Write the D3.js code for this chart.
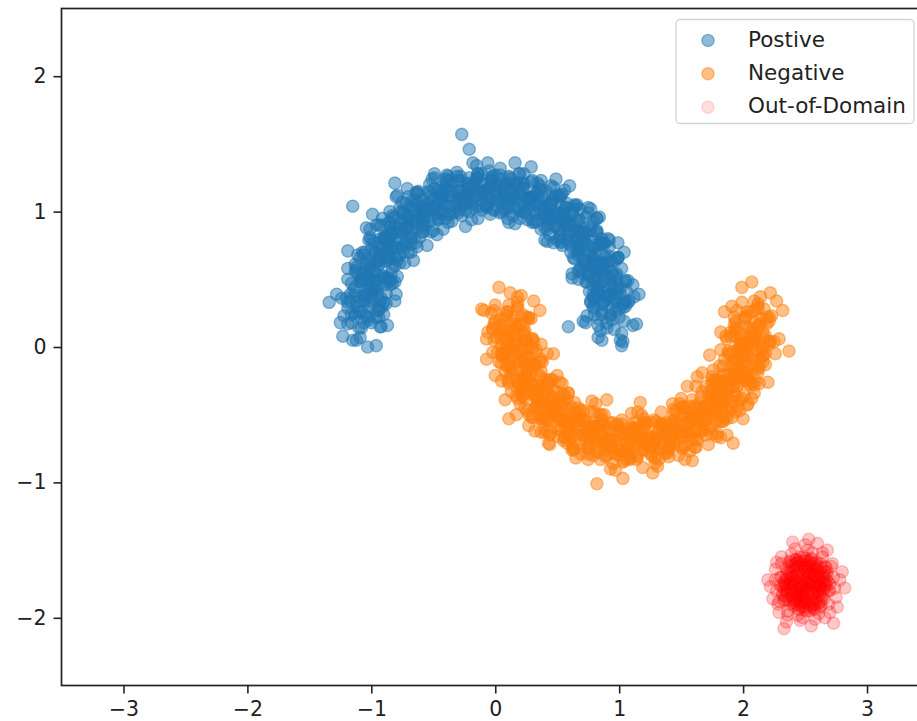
<!DOCTYPE html>
<html>
<head>
<meta charset="utf-8">
<script src="https://cdn.jsdelivr.net/npm/d3@7"></script>
<style>
body { margin: 0; background: #fff; }
text { font-family: "DejaVu Sans", sans-serif; }
</style>
</head>
<body>
<div id="chart"></div>
<script>
var xTicks = [-3, -2, -1, 0, 1, 2, 3];
var yTicks = [-2, -1, 0, 1, 2];
var seriesNames = ["Postive", "Negative", "Out-of-Domain"];

// upper moon
var positive = [
  [0.93,0.23],[0.79,0.29],[1.05,0.34],[0.86,0.05],[1.11,0.16],[0.73,0.18],[0.98,0.42],[0.90,0.14],[1.02,0.01],
  [0.97,0.26],[0.83,0.16],[1.08,0.34],[0.76,0.41],[0.94,0.45],[1.14,0.17],[0.87,0.33],[0.71,0.19],[1.01,0.05],
  [0.90,0.38],[1.03,0.29],[0.79,0.39],[0.98,0.49],[0.83,0.56],[1.11,0.46],[0.74,0.23],[0.94,0.20],[1.16,0.39],
  [0.93,0.51],[0.82,0.42],[1.03,0.32],[0.75,0.53],[0.99,0.66],[0.86,0.24],[1.07,0.49],[0.67,0.56],[0.79,0.35],
  [0.87,0.55],[0.73,0.61],[0.99,0.66],[0.80,0.37],[1.05,0.48],[0.67,0.50],[0.92,0.74],[0.84,0.46],[0.96,0.33],
  [0.88,0.58],[0.74,0.48],[0.99,0.66],[0.67,0.73],[0.85,0.77],[1.05,0.49],[0.78,0.65],[0.62,0.51],[0.92,0.37],
  [0.78,0.69],[0.91,0.60],[0.67,0.70],[0.86,0.80],[0.71,0.87],[0.99,0.77],[0.62,0.54],[0.82,0.51],[1.04,0.70],
  [0.78,0.81],[0.67,0.72],[0.88,0.62],[0.60,0.83],[0.84,0.96],[0.71,0.54],[0.92,0.79],[0.52,0.86],[0.64,0.65],
  [0.70,0.84],[0.56,0.90],[0.82,0.95],[0.63,0.66],[0.88,0.77],[0.50,0.79],[0.75,1.03],[0.67,0.75],[0.79,0.62],
  [0.68,0.85],[0.54,0.75],[0.79,0.93],[0.47,1.00],[0.65,1.04],[0.85,0.76],[0.58,0.92],[0.42,0.78],[0.72,0.64],
  [0.56,0.94],[0.69,0.85],[0.45,0.95],[0.64,1.05],[0.49,1.12],[0.77,1.02],[0.40,0.79],[0.60,0.76],[0.82,0.95],
  [0.54,1.04],[0.43,0.95],[0.64,0.85],[0.36,1.06],[0.60,1.19],[0.47,0.77],[0.68,1.02],[0.28,1.09],[0.40,0.88],
  [0.44,1.05],[0.30,1.11],[0.56,1.16],[0.37,0.87],[0.62,0.98],[0.24,1.00],[0.49,1.24],[0.41,0.96],[0.53,0.83],
  [0.40,1.04],[0.26,0.94],[0.51,1.12],[0.19,1.19],[0.37,1.23],[0.57,0.95],[0.30,1.11],[0.14,0.97],[0.44,0.83],
  [0.26,1.10],[0.39,1.01],[0.15,1.11],[0.34,1.21],[0.19,1.28],[0.47,1.18],[0.10,0.95],[0.30,0.92],[0.52,1.11],
  [0.23,1.18],[0.12,1.09],[0.33,0.99],[0.05,1.20],[0.29,1.33],[0.16,0.91],[0.37,1.16],[-0.03,1.23],[0.09,1.02],
  [0.11,1.17],[-0.03,1.23],[0.23,1.28],[0.04,0.99],[0.29,1.10],[-0.09,1.12],[0.16,1.36],[0.08,1.08],[0.20,0.95],
  [0.07,1.13],[-0.07,1.03],[0.18,1.21],[-0.14,1.28],[0.04,1.32],[0.24,1.04],[-0.03,1.20],[-0.19,1.06],[0.11,0.92],
  [-0.08,1.16],[0.05,1.07],[-0.19,1.17],[0.00,1.27],[-0.15,1.34],[0.13,1.24],[-0.24,1.01],[-0.04,0.98],[0.18,1.17],
  [-0.12,1.21],[-0.23,1.12],[-0.02,1.02],[-0.30,1.23],[-0.06,1.36],[-0.19,0.94],[0.02,1.19],[-0.38,1.26],[-0.26,1.05],
  [-0.23,1.17],[-0.37,1.23],[-0.11,1.28],[-0.30,0.99],[-0.05,1.10],[-0.43,1.12],[-0.18,1.36],[-0.26,1.08],[-0.14,0.95],
  [-0.28,1.10],[-0.42,1.00],[-0.17,1.18],[-0.49,1.25],[-0.31,1.29],[-0.11,1.01],[-0.38,1.17],[-0.54,1.03],[-0.24,0.89],
  [-0.42,1.10],[-0.29,1.01],[-0.53,1.11],[-0.34,1.21],[-0.49,1.28],[-0.21,1.18],[-0.58,0.95],[-0.38,0.92],[-0.16,1.11],
  [-0.45,1.12],[-0.56,1.03],[-0.35,0.93],[-0.63,1.14],[-0.39,1.27],[-0.52,0.85],[-0.31,1.10],[-0.71,1.17],[-0.59,0.96],
  [-0.56,1.05],[-0.70,1.11],[-0.44,1.16],[-0.63,0.87],[-0.38,0.98],[-0.76,1.00],[-0.51,1.24],[-0.59,0.96],[-0.47,0.83],
  [-0.59,0.96],[-0.73,0.86],[-0.48,1.04],[-0.80,1.11],[-0.62,1.15],[-0.42,0.87],[-0.69,1.03],[-0.85,0.89],[-0.55,0.75],
  [-0.72,0.94],[-0.59,0.85],[-0.83,0.95],[-0.64,1.05],[-0.79,1.12],[-0.51,1.02],[-0.88,0.79],[-0.68,0.76],[-0.46,0.95],
  [-0.73,0.93],[-0.84,0.84],[-0.63,0.74],[-0.91,0.95],[-0.67,1.08],[-0.80,0.66],[-0.59,0.91],[-0.99,0.98],[-0.87,0.77],
  [-0.82,0.84],[-0.96,0.90],[-0.70,0.95],[-0.89,0.66],[-0.64,0.77],[-1.02,0.79],[-0.77,1.03],[-0.85,0.75],[-0.73,0.62],
  [-0.83,0.73],[-0.97,0.63],[-0.72,0.81],[-1.04,0.88],[-0.86,0.92],[-0.66,0.64],[-0.93,0.80],[-1.09,0.66],[-0.79,0.52],
  [-0.94,0.69],[-0.81,0.60],[-1.05,0.70],[-0.86,0.80],[-1.01,0.87],[-0.73,0.77],[-1.10,0.54],[-0.90,0.51],[-0.68,0.70],
  [-0.93,0.66],[-1.04,0.57],[-0.83,0.47],[-1.11,0.68],[-0.87,0.81],[-1.00,0.39],[-0.79,0.64],[-1.19,0.71],[-1.07,0.50],
  [-0.99,0.55],[-1.13,0.61],[-0.87,0.66],[-1.06,0.37],[-0.81,0.48],[-1.19,0.50],[-0.94,0.74],[-1.02,0.46],[-0.90,0.33],
  [-0.98,0.43],[-1.12,0.33],[-0.87,0.51],[-1.19,0.58],[-1.01,0.62],[-0.81,0.34],[-1.08,0.50],[-1.24,0.36],[-0.94,0.22],
  [-1.06,0.38],[-0.93,0.29],[-1.17,0.39],[-0.98,0.49],[-1.13,0.56],[-0.85,0.46],[-1.22,0.23],[-1.02,0.20],[-0.80,0.39],
  [-1.02,0.34],[-1.13,0.25],[-0.92,0.15],[-1.20,0.36],[-0.96,0.49],[-1.09,0.07],[-0.88,0.32],[-1.28,0.39],[-1.16,0.18],
  [-1.05,0.23],[-1.19,0.29],[-0.93,0.34],[-1.12,0.05],[-0.87,0.16],[-1.25,0.18],[-1.00,0.42],[-1.08,0.14],[-0.96,0.01],
  [-0.27,1.57],[-0.21,1.46],[-1.15,1.04],[-0.81,1.21],[-1.34,0.33],[-1.23,0.08],[-1.15,0.05],[-1.03,0.00],
  [0.59,0.15],[1.03,0.04],[0.83,0.07],[1.12,0.37],
  [0.93,0.24],[1.00,0.28],[0.87,0.32],[1.04,0.19],[0.83,0.21],[0.96,0.13],[0.89,0.37],[1.07,0.33],[0.80,0.30],[0.98,0.39],[0.85,0.12],[1.02,0.10],
  [0.94,0.29],[0.87,0.34],[1.01,0.39],[0.80,0.24],[0.96,0.43],[0.90,0.18],[1.05,0.30],[0.83,0.44],[1.00,0.22],[0.77,0.33],[0.93,0.38],[0.86,0.26],
  [0.88,0.43],[0.96,0.35],[0.83,0.40],[1.01,0.44],[0.90,0.51],[0.97,0.53],[0.79,0.51],[1.03,0.32],[0.86,0.31],[1.06,0.41],[0.77,0.34],[0.93,0.39],
  [0.88,0.49],[0.95,0.53],[0.82,0.57],[0.99,0.44],[0.78,0.46],[0.91,0.38],[0.84,0.62],[1.02,0.58],[0.75,0.55],[0.93,0.64],[0.80,0.37],[0.97,0.35],
  [0.87,0.53],[0.80,0.58],[0.94,0.63],[0.73,0.48],[0.89,0.67],[0.83,0.42],[0.98,0.54],[0.76,0.68],[0.93,0.46],[0.70,0.57],[0.86,0.62],[0.79,0.50],
  [0.79,0.66],[0.87,0.58],[0.74,0.63],[0.92,0.67],[0.81,0.74],[0.88,0.76],[0.70,0.74],[0.94,0.55],[0.77,0.54],[0.97,0.64],[0.68,0.57],[0.84,0.62],
  [0.77,0.71],[0.84,0.75],[0.71,0.79],[0.88,0.66],[0.67,0.68],[0.80,0.60],[0.73,0.84],[0.91,0.80],[0.64,0.77],[0.82,0.86],[0.69,0.59],[0.86,0.57],
  [0.75,0.75],[0.68,0.80],[0.82,0.85],[0.61,0.70],[0.77,0.89],[0.71,0.64],[0.86,0.76],[0.64,0.90],[0.81,0.68],[0.58,0.79],[0.74,0.84],[0.67,0.72],
  [0.64,0.86],[0.72,0.78],[0.59,0.83],[0.77,0.87],[0.66,0.94],[0.73,0.96],[0.55,0.94],[0.79,0.75],[0.62,0.74],[0.82,0.84],[0.53,0.77],[0.69,0.82],
  [0.61,0.90],[0.68,0.94],[0.55,0.98],[0.72,0.85],[0.51,0.87],[0.64,0.79],[0.57,1.03],[0.75,0.99],[0.48,0.96],[0.66,1.05],[0.53,0.78],[0.70,0.76],
  [0.56,0.92],[0.49,0.97],[0.63,1.02],[0.42,0.87],[0.58,1.06],[0.52,0.81],[0.67,0.93],[0.45,1.07],[0.62,0.85],[0.39,0.96],[0.55,1.01],[0.48,0.89],
  [0.44,1.02],[0.52,0.94],[0.39,0.99],[0.57,1.03],[0.46,1.10],[0.53,1.12],[0.35,1.10],[0.59,0.91],[0.42,0.90],[0.62,1.00],[0.33,0.93],[0.49,0.98],
  [0.40,1.04],[0.47,1.08],[0.34,1.12],[0.51,0.99],[0.30,1.01],[0.43,0.93],[0.36,1.17],[0.54,1.13],[0.27,1.10],[0.45,1.19],[0.32,0.92],[0.49,0.90],
  [0.34,1.05],[0.27,1.10],[0.41,1.15],[0.20,1.00],[0.36,1.19],[0.30,0.94],[0.45,1.06],[0.23,1.20],[0.40,0.98],[0.17,1.09],[0.33,1.14],[0.26,1.02],
  [0.21,1.13],[0.29,1.05],[0.16,1.10],[0.34,1.14],[0.23,1.21],[0.30,1.23],[0.12,1.21],[0.36,1.02],[0.19,1.01],[0.39,1.11],[0.10,1.04],[0.26,1.09],
  [0.15,1.13],[0.22,1.17],[0.09,1.21],[0.26,1.08],[0.05,1.10],[0.18,1.02],[0.11,1.26],[0.29,1.22],[0.02,1.19],[0.20,1.28],[0.07,1.01],[0.24,0.99],
  [0.09,1.11],[0.02,1.16],[0.16,1.21],[-0.05,1.06],[0.11,1.25],[0.05,1.00],[0.20,1.12],[-0.02,1.26],[0.15,1.04],[-0.08,1.15],[0.08,1.20],[0.01,1.08],
  [-0.05,1.17],[0.03,1.09],[-0.10,1.14],[0.08,1.18],[-0.03,1.25],[0.04,1.27],[-0.14,1.25],[0.10,1.06],[-0.07,1.05],[0.13,1.15],[-0.16,1.08],[0.00,1.13],
  [-0.10,1.15],[-0.03,1.19],[-0.16,1.23],[0.01,1.10],[-0.20,1.12],[-0.07,1.04],[-0.14,1.28],[0.04,1.24],[-0.23,1.21],[-0.05,1.30],[-0.18,1.03],[-0.01,1.01],
  [-0.17,1.11],[-0.24,1.16],[-0.10,1.21],[-0.31,1.06],[-0.15,1.25],[-0.21,1.00],[-0.06,1.12],[-0.28,1.26],[-0.11,1.04],[-0.34,1.15],[-0.18,1.20],[-0.25,1.08],
  [-0.30,1.15],[-0.22,1.07],[-0.35,1.12],[-0.17,1.16],[-0.28,1.23],[-0.21,1.25],[-0.39,1.23],[-0.15,1.04],[-0.32,1.03],[-0.12,1.13],[-0.41,1.06],[-0.25,1.11],
  [-0.36,1.11],[-0.29,1.15],[-0.42,1.19],[-0.25,1.06],[-0.46,1.08],[-0.33,1.00],[-0.40,1.24],[-0.22,1.20],[-0.49,1.17],[-0.31,1.26],[-0.44,0.99],[-0.27,0.97],
  [-0.42,1.05],[-0.49,1.10],[-0.35,1.15],[-0.56,1.00],[-0.40,1.19],[-0.46,0.94],[-0.31,1.06],[-0.53,1.20],[-0.36,0.98],[-0.59,1.09],[-0.43,1.14],[-0.50,1.02],
  [-0.55,1.06],[-0.47,0.98],[-0.60,1.03],[-0.42,1.07],[-0.53,1.14],[-0.46,1.16],[-0.64,1.14],[-0.40,0.95],[-0.57,0.94],[-0.37,1.04],[-0.66,0.97],[-0.50,1.02],
  [-0.59,1.00],[-0.52,1.04],[-0.65,1.08],[-0.48,0.95],[-0.69,0.97],[-0.56,0.89],[-0.63,1.13],[-0.45,1.09],[-0.72,1.06],[-0.54,1.15],[-0.67,0.88],[-0.50,0.86],
  [-0.64,0.92],[-0.71,0.97],[-0.57,1.02],[-0.78,0.87],[-0.62,1.06],[-0.68,0.81],[-0.53,0.93],[-0.75,1.07],[-0.58,0.85],[-0.81,0.96],[-0.65,1.01],[-0.72,0.89],
  [-0.76,0.92],[-0.68,0.84],[-0.81,0.89],[-0.63,0.93],[-0.74,1.00],[-0.67,1.02],[-0.85,1.00],[-0.61,0.81],[-0.78,0.80],[-0.58,0.90],[-0.87,0.83],[-0.71,0.88],
  [-0.79,0.84],[-0.72,0.88],[-0.85,0.92],[-0.68,0.79],[-0.89,0.81],[-0.76,0.73],[-0.83,0.97],[-0.65,0.93],[-0.92,0.90],[-0.74,0.99],[-0.87,0.72],[-0.70,0.70],
  [-0.83,0.75],[-0.90,0.80],[-0.76,0.85],[-0.97,0.70],[-0.81,0.89],[-0.87,0.64],[-0.72,0.76],[-0.94,0.90],[-0.77,0.68],[-1.00,0.79],[-0.84,0.84],[-0.91,0.72],
  [-0.92,0.73],[-0.84,0.65],[-0.97,0.70],[-0.79,0.74],[-0.90,0.81],[-0.83,0.83],[-1.01,0.81],[-0.77,0.62],[-0.94,0.61],[-0.74,0.71],[-1.03,0.64],[-0.87,0.69],
  [-0.94,0.64],[-0.87,0.68],[-1.00,0.72],[-0.83,0.59],[-1.04,0.61],[-0.91,0.53],[-0.98,0.77],[-0.80,0.73],[-1.07,0.70],[-0.89,0.79],[-1.02,0.52],[-0.85,0.50],
  [-0.95,0.53],[-1.02,0.58],[-0.88,0.63],[-1.09,0.48],[-0.93,0.67],[-0.99,0.42],[-0.84,0.54],[-1.06,0.68],[-0.89,0.46],[-1.12,0.57],[-0.96,0.62],[-1.03,0.50],
  [-1.03,0.51],[-0.95,0.43],[-1.08,0.48],[-0.90,0.52],[-1.01,0.59],[-0.94,0.61],[-1.12,0.59],[-0.88,0.40],[-1.05,0.39],[-0.85,0.49],[-1.14,0.42],[-0.98,0.47],
  [-1.03,0.41],[-0.96,0.45],[-1.09,0.49],[-0.92,0.36],[-1.13,0.38],[-1.00,0.30],[-1.07,0.54],[-0.89,0.50],[-1.16,0.47],[-0.98,0.56],[-1.11,0.29],[-0.94,0.27],
  [-1.02,0.29],[-1.09,0.34],[-0.95,0.39],[-1.16,0.24],[-1.00,0.43],[-1.06,0.18],[-0.91,0.30],[-1.13,0.44],[-0.96,0.22],[-1.19,0.33],[-1.03,0.38],[-1.10,0.26],
  [-1.08,0.26],[-1.00,0.18],[-1.13,0.23],[-0.95,0.27],[-1.06,0.34],[-0.99,0.36],[-1.17,0.34],[-0.93,0.15],[-1.10,0.14],[-0.90,0.24],[-1.19,0.17],[-1.03,0.22]
];

// lower moon
var negative = [
  [0.10,0.26],[0.23,0.17],[-0.01,0.27],[0.18,0.37],[0.03,0.44],[0.31,0.34],[-0.06,0.11],[0.14,0.08],[0.36,0.27],
  [0.15,0.23],[0.04,0.14],[0.25,0.04],[-0.03,0.25],[0.21,0.38],[0.08,-0.04],[0.29,0.21],[-0.11,0.28],[0.01,0.07],
  [0.13,0.11],[-0.01,0.17],[0.25,0.22],[0.06,-0.07],[0.31,0.04],[-0.07,0.06],[0.18,0.30],[0.10,0.02],[0.22,-0.11],
  [0.19,-0.02],[0.05,-0.12],[0.30,0.06],[-0.02,0.13],[0.16,0.17],[0.36,-0.11],[0.09,0.05],[-0.07,-0.09],[0.23,-0.23],
  [0.16,-0.06],[0.29,-0.15],[0.05,-0.05],[0.24,0.05],[0.09,0.12],[0.37,0.02],[0.00,-0.21],[0.20,-0.24],[0.42,-0.05],
  [0.24,-0.09],[0.13,-0.18],[0.34,-0.28],[0.06,-0.07],[0.30,0.06],[0.17,-0.36],[0.38,-0.11],[-0.02,-0.04],[0.10,-0.25],
  [0.25,-0.20],[0.11,-0.14],[0.37,-0.09],[0.18,-0.38],[0.43,-0.27],[0.05,-0.25],[0.30,-0.01],[0.22,-0.29],[0.34,-0.42],
  [0.34,-0.32],[0.20,-0.42],[0.45,-0.24],[0.13,-0.17],[0.31,-0.13],[0.51,-0.41],[0.24,-0.25],[0.08,-0.39],[0.38,-0.53],
  [0.33,-0.35],[0.46,-0.44],[0.22,-0.34],[0.41,-0.24],[0.26,-0.17],[0.54,-0.27],[0.17,-0.50],[0.37,-0.53],[0.59,-0.34],
  [0.44,-0.36],[0.33,-0.45],[0.54,-0.55],[0.26,-0.34],[0.50,-0.21],[0.37,-0.63],[0.58,-0.38],[0.18,-0.31],[0.30,-0.52],
  [0.47,-0.45],[0.33,-0.39],[0.59,-0.34],[0.40,-0.63],[0.65,-0.52],[0.27,-0.50],[0.52,-0.26],[0.44,-0.54],[0.56,-0.67],
  [0.58,-0.55],[0.44,-0.65],[0.69,-0.47],[0.37,-0.40],[0.55,-0.36],[0.75,-0.64],[0.48,-0.48],[0.32,-0.62],[0.62,-0.76],
  [0.59,-0.56],[0.72,-0.65],[0.48,-0.55],[0.67,-0.45],[0.52,-0.38],[0.80,-0.48],[0.43,-0.71],[0.63,-0.74],[0.85,-0.55],
  [0.72,-0.55],[0.61,-0.64],[0.82,-0.74],[0.54,-0.53],[0.78,-0.40],[0.65,-0.82],[0.86,-0.57],[0.46,-0.50],[0.58,-0.71],
  [0.76,-0.61],[0.62,-0.55],[0.88,-0.50],[0.69,-0.79],[0.94,-0.68],[0.56,-0.66],[0.81,-0.42],[0.73,-0.70],[0.85,-0.83],
  [0.89,-0.69],[0.75,-0.79],[1.00,-0.61],[0.68,-0.54],[0.86,-0.50],[1.06,-0.78],[0.79,-0.62],[0.63,-0.76],[0.93,-0.90],
  [0.91,-0.68],[1.04,-0.77],[0.80,-0.67],[0.99,-0.57],[0.84,-0.50],[1.12,-0.60],[0.75,-0.83],[0.95,-0.86],[1.17,-0.67],
  [1.04,-0.64],[0.93,-0.73],[1.14,-0.83],[0.86,-0.62],[1.10,-0.49],[0.97,-0.91],[1.18,-0.66],[0.78,-0.59],[0.90,-0.80],
  [1.10,-0.67],[0.96,-0.61],[1.22,-0.56],[1.03,-0.85],[1.28,-0.74],[0.90,-0.72],[1.15,-0.48],[1.07,-0.76],[1.19,-0.89],
  [1.23,-0.72],[1.09,-0.82],[1.34,-0.64],[1.02,-0.57],[1.20,-0.53],[1.40,-0.81],[1.13,-0.65],[0.97,-0.79],[1.27,-0.93],
  [1.25,-0.68],[1.38,-0.77],[1.14,-0.67],[1.33,-0.57],[1.18,-0.50],[1.46,-0.60],[1.09,-0.83],[1.29,-0.86],[1.51,-0.67],
  [1.38,-0.61],[1.27,-0.70],[1.48,-0.80],[1.20,-0.59],[1.44,-0.46],[1.31,-0.88],[1.52,-0.63],[1.12,-0.56],[1.24,-0.77],
  [1.44,-0.61],[1.30,-0.55],[1.56,-0.50],[1.37,-0.79],[1.62,-0.68],[1.24,-0.66],[1.49,-0.42],[1.41,-0.70],[1.53,-0.83],
  [1.55,-0.63],[1.41,-0.73],[1.66,-0.55],[1.34,-0.48],[1.52,-0.44],[1.72,-0.72],[1.45,-0.56],[1.29,-0.70],[1.59,-0.84],
  [1.57,-0.56],[1.70,-0.65],[1.46,-0.55],[1.65,-0.45],[1.50,-0.38],[1.78,-0.48],[1.41,-0.71],[1.61,-0.74],[1.83,-0.55],
  [1.69,-0.47],[1.58,-0.56],[1.79,-0.66],[1.51,-0.45],[1.75,-0.32],[1.62,-0.74],[1.83,-0.49],[1.43,-0.42],[1.55,-0.63],
  [1.73,-0.45],[1.59,-0.39],[1.85,-0.34],[1.66,-0.63],[1.91,-0.52],[1.53,-0.50],[1.78,-0.26],[1.70,-0.54],[1.82,-0.67],
  [1.83,-0.44],[1.69,-0.54],[1.94,-0.36],[1.62,-0.29],[1.80,-0.25],[2.00,-0.53],[1.73,-0.37],[1.57,-0.51],[1.87,-0.65],
  [1.83,-0.35],[1.96,-0.44],[1.72,-0.34],[1.91,-0.24],[1.76,-0.17],[2.04,-0.27],[1.67,-0.50],[1.87,-0.53],[2.09,-0.34],
  [1.93,-0.24],[1.82,-0.33],[2.03,-0.43],[1.75,-0.22],[1.99,-0.09],[1.86,-0.51],[2.07,-0.26],[1.67,-0.19],[1.79,-0.40],
  [1.95,-0.20],[1.81,-0.14],[2.07,-0.09],[1.88,-0.38],[2.13,-0.27],[1.75,-0.25],[2.00,-0.01],[1.92,-0.29],[2.04,-0.42],
  [2.03,-0.17],[1.89,-0.27],[2.14,-0.09],[1.82,-0.02],[2.00,0.02],[2.20,-0.26],[1.93,-0.10],[1.77,-0.24],[2.07,-0.38],
  [2.00,-0.06],[2.13,-0.15],[1.89,-0.05],[2.08,0.05],[1.93,0.12],[2.21,0.02],[1.84,-0.21],[2.04,-0.24],[2.26,-0.05],
  [2.08,0.06],[1.97,-0.03],[2.18,-0.13],[1.90,0.08],[2.14,0.21],[2.01,-0.21],[2.22,0.04],[1.82,0.11],[1.94,-0.10],
  [2.07,0.11],[1.93,0.17],[2.19,0.22],[2.00,-0.07],[2.25,0.04],[1.87,0.06],[2.12,0.30],[2.04,0.02],[2.16,-0.11],
  [2.12,0.15],[1.98,0.05],[2.23,0.23],[1.91,0.30],[2.09,0.34],[2.29,0.06],[2.02,0.22],[1.86,0.08],[2.16,-0.06],
  [2.06,0.26],[2.19,0.17],[1.95,0.27],[2.14,0.37],[1.99,0.44],[2.27,0.34],[1.90,0.11],[2.10,0.08],[2.32,0.27],
  [0.82,-1.01],[1.03,-0.97],[2.07,0.48],[2.22,0.40],[2.37,-0.03],[1.85,0.26],[1.73,-0.06],[0.11,-0.53],
  [0.27,-0.58],[-0.09,0.27],[0.12,0.40],[1.17,-0.41],[0.90,-0.39],[0.47,-0.05],[1.63,-0.22],[1.55,-0.29],
  [1.92,-0.71],[0.44,-0.72],
  [0.09,0.23],[0.17,0.15],[0.04,0.20],[0.22,0.24],[0.11,0.31],[0.18,0.33],[0.00,0.31],[0.24,0.12],[0.07,0.11],[0.27,0.21],[-0.02,0.14],[0.14,0.19],
  [0.13,0.13],[0.20,0.17],[0.07,0.21],[0.24,0.08],[0.03,0.10],[0.16,0.02],[0.09,0.26],[0.27,0.22],[0.00,0.19],[0.18,0.28],[0.05,0.01],[0.22,-0.01],
  [0.16,0.01],[0.09,0.06],[0.23,0.11],[0.02,-0.04],[0.18,0.15],[0.12,-0.10],[0.27,0.02],[0.05,0.16],[0.22,-0.06],[-0.01,0.05],[0.15,0.10],[0.08,-0.02],
  [0.14,-0.02],[0.22,-0.10],[0.09,-0.05],[0.27,-0.01],[0.16,0.06],[0.23,0.08],[0.05,0.06],[0.29,-0.13],[0.12,-0.14],[0.32,-0.04],[0.03,-0.11],[0.19,-0.06],
  [0.19,-0.11],[0.26,-0.07],[0.13,-0.03],[0.30,-0.16],[0.09,-0.14],[0.22,-0.22],[0.15,0.02],[0.33,-0.02],[0.06,-0.05],[0.24,0.04],[0.11,-0.23],[0.28,-0.25],
  [0.25,-0.22],[0.18,-0.17],[0.32,-0.12],[0.11,-0.27],[0.27,-0.08],[0.21,-0.33],[0.36,-0.21],[0.14,-0.07],[0.31,-0.29],[0.08,-0.18],[0.24,-0.13],[0.17,-0.25],
  [0.24,-0.24],[0.32,-0.32],[0.19,-0.27],[0.37,-0.23],[0.26,-0.16],[0.33,-0.14],[0.15,-0.16],[0.39,-0.35],[0.22,-0.36],[0.42,-0.26],[0.13,-0.33],[0.29,-0.28],
  [0.32,-0.33],[0.39,-0.29],[0.26,-0.25],[0.43,-0.38],[0.22,-0.36],[0.35,-0.44],[0.28,-0.20],[0.46,-0.24],[0.19,-0.27],[0.37,-0.18],[0.24,-0.45],[0.41,-0.47],
  [0.40,-0.42],[0.33,-0.37],[0.47,-0.32],[0.26,-0.47],[0.42,-0.28],[0.36,-0.53],[0.51,-0.41],[0.29,-0.27],[0.46,-0.49],[0.23,-0.38],[0.39,-0.33],[0.32,-0.45],
  [0.41,-0.43],[0.49,-0.51],[0.36,-0.46],[0.54,-0.42],[0.43,-0.35],[0.50,-0.33],[0.32,-0.35],[0.56,-0.54],[0.39,-0.55],[0.59,-0.45],[0.30,-0.52],[0.46,-0.47],
  [0.50,-0.50],[0.57,-0.46],[0.44,-0.42],[0.61,-0.55],[0.40,-0.53],[0.53,-0.61],[0.46,-0.37],[0.64,-0.41],[0.37,-0.44],[0.55,-0.35],[0.42,-0.62],[0.59,-0.64],
  [0.59,-0.58],[0.52,-0.53],[0.66,-0.48],[0.45,-0.63],[0.61,-0.44],[0.55,-0.69],[0.70,-0.57],[0.48,-0.43],[0.65,-0.65],[0.42,-0.54],[0.58,-0.49],[0.51,-0.61],
  [0.62,-0.57],[0.70,-0.65],[0.57,-0.60],[0.75,-0.56],[0.64,-0.49],[0.71,-0.47],[0.53,-0.49],[0.77,-0.68],[0.60,-0.69],[0.80,-0.59],[0.51,-0.66],[0.67,-0.61],
  [0.72,-0.63],[0.79,-0.59],[0.66,-0.55],[0.83,-0.68],[0.62,-0.66],[0.75,-0.74],[0.68,-0.50],[0.86,-0.54],[0.59,-0.57],[0.77,-0.48],[0.64,-0.75],[0.81,-0.77],
  [0.83,-0.69],[0.76,-0.64],[0.90,-0.59],[0.69,-0.74],[0.85,-0.55],[0.79,-0.80],[0.94,-0.68],[0.72,-0.54],[0.89,-0.76],[0.66,-0.65],[0.82,-0.60],[0.75,-0.72],
  [0.86,-0.66],[0.94,-0.74],[0.81,-0.69],[0.99,-0.65],[0.88,-0.58],[0.95,-0.56],[0.77,-0.58],[1.01,-0.77],[0.84,-0.78],[1.04,-0.68],[0.75,-0.75],[0.91,-0.70],
  [0.97,-0.69],[1.04,-0.65],[0.91,-0.61],[1.08,-0.74],[0.87,-0.72],[1.00,-0.80],[0.93,-0.56],[1.11,-0.60],[0.84,-0.63],[1.02,-0.54],[0.89,-0.81],[1.06,-0.83],
  [1.08,-0.73],[1.01,-0.68],[1.15,-0.63],[0.94,-0.78],[1.10,-0.59],[1.04,-0.84],[1.19,-0.72],[0.97,-0.58],[1.14,-0.80],[0.91,-0.69],[1.07,-0.64],[1.00,-0.76],
  [1.11,-0.68],[1.19,-0.76],[1.06,-0.71],[1.24,-0.67],[1.13,-0.60],[1.20,-0.58],[1.02,-0.60],[1.26,-0.79],[1.09,-0.80],[1.29,-0.70],[1.00,-0.77],[1.16,-0.72],
  [1.23,-0.69],[1.30,-0.65],[1.17,-0.61],[1.34,-0.74],[1.13,-0.72],[1.26,-0.80],[1.19,-0.56],[1.37,-0.60],[1.10,-0.63],[1.28,-0.54],[1.15,-0.81],[1.32,-0.83],
  [1.33,-0.71],[1.26,-0.66],[1.40,-0.61],[1.19,-0.76],[1.35,-0.57],[1.29,-0.82],[1.44,-0.70],[1.22,-0.56],[1.39,-0.78],[1.16,-0.67],[1.32,-0.62],[1.25,-0.74],
  [1.36,-0.64],[1.44,-0.72],[1.31,-0.67],[1.49,-0.63],[1.38,-0.56],[1.45,-0.54],[1.27,-0.56],[1.51,-0.75],[1.34,-0.76],[1.54,-0.66],[1.25,-0.73],[1.41,-0.68],
  [1.48,-0.63],[1.55,-0.59],[1.42,-0.55],[1.59,-0.68],[1.38,-0.66],[1.51,-0.74],[1.44,-0.50],[1.62,-0.54],[1.35,-0.57],[1.53,-0.48],[1.40,-0.75],[1.57,-0.77],
  [1.57,-0.62],[1.50,-0.57],[1.64,-0.52],[1.43,-0.67],[1.59,-0.48],[1.53,-0.73],[1.68,-0.61],[1.46,-0.47],[1.63,-0.69],[1.40,-0.58],[1.56,-0.53],[1.49,-0.65],
  [1.60,-0.53],[1.68,-0.61],[1.55,-0.56],[1.73,-0.52],[1.62,-0.45],[1.69,-0.43],[1.51,-0.45],[1.75,-0.64],[1.58,-0.65],[1.78,-0.55],[1.49,-0.62],[1.65,-0.57],
  [1.70,-0.50],[1.77,-0.46],[1.64,-0.42],[1.81,-0.55],[1.60,-0.53],[1.73,-0.61],[1.66,-0.37],[1.84,-0.41],[1.57,-0.44],[1.75,-0.35],[1.62,-0.62],[1.79,-0.64],
  [1.78,-0.48],[1.71,-0.43],[1.85,-0.38],[1.64,-0.53],[1.80,-0.34],[1.74,-0.59],[1.89,-0.47],[1.67,-0.33],[1.84,-0.55],[1.61,-0.44],[1.77,-0.39],[1.70,-0.51],
  [1.79,-0.37],[1.87,-0.45],[1.74,-0.40],[1.92,-0.36],[1.81,-0.29],[1.88,-0.27],[1.70,-0.29],[1.94,-0.48],[1.77,-0.49],[1.97,-0.39],[1.68,-0.46],[1.84,-0.41],
  [1.88,-0.33],[1.95,-0.29],[1.82,-0.25],[1.99,-0.38],[1.78,-0.36],[1.91,-0.44],[1.84,-0.20],[2.02,-0.24],[1.75,-0.27],[1.93,-0.18],[1.80,-0.45],[1.97,-0.47],
  [1.95,-0.29],[1.88,-0.24],[2.02,-0.19],[1.81,-0.34],[1.97,-0.15],[1.91,-0.40],[2.06,-0.28],[1.84,-0.14],[2.01,-0.36],[1.78,-0.25],[1.94,-0.20],[1.87,-0.32],
  [1.94,-0.17],[2.02,-0.25],[1.89,-0.20],[2.07,-0.16],[1.96,-0.09],[2.03,-0.07],[1.85,-0.09],[2.09,-0.28],[1.92,-0.29],[2.12,-0.19],[1.83,-0.26],[1.99,-0.21],
  [2.01,-0.11],[2.08,-0.07],[1.95,-0.03],[2.12,-0.16],[1.91,-0.14],[2.04,-0.22],[1.97,0.02],[2.15,-0.02],[1.88,-0.05],[2.06,0.04],[1.93,-0.23],[2.10,-0.25],
  [2.05,-0.07],[1.98,-0.02],[2.12,0.03],[1.91,-0.12],[2.07,0.07],[2.01,-0.18],[2.16,-0.06],[1.94,0.08],[2.11,-0.14],[1.88,-0.03],[2.04,0.02],[1.97,-0.10],
  [2.03,0.06],[2.11,-0.02],[1.98,0.03],[2.16,0.07],[2.05,0.14],[2.12,0.16],[1.94,0.14],[2.18,-0.05],[2.01,-0.06],[2.21,0.04],[1.92,-0.03],[2.08,0.02],
  [2.07,0.13],[2.14,0.17],[2.01,0.21],[2.18,0.08],[1.97,0.10],[2.10,0.02],[2.03,0.26],[2.21,0.22],[1.94,0.19],[2.12,0.28],[1.99,0.01],[2.16,-0.01],
  [2.10,0.18],[2.03,0.23],[2.17,0.28],[1.96,0.13],[2.12,0.32],[2.06,0.07],[2.21,0.19],[1.99,0.33],[2.16,0.11],[1.93,0.22],[2.09,0.27],[2.02,0.15]
];

// far-away cluster
var outOfDomain = [
  [2.50,-1.75],[2.52,-1.73],[2.48,-1.77],[2.51,-1.78],[2.47,-1.72],[2.54,-1.76],[2.49,-1.71],[2.53,-1.79],[2.46,-1.75],[2.50,-1.80],
  [2.55,-1.72],[2.45,-1.79],[2.52,-1.70],[2.48,-1.81],[2.56,-1.77],[2.44,-1.73],[2.51,-1.74],[2.49,-1.76],[2.53,-1.75],[2.47,-1.78],
  [2.58,-1.70],[2.42,-1.80],[2.57,-1.82],[2.43,-1.69],[2.50,-1.65],[2.50,-1.85],[2.60,-1.75],[2.40,-1.75],[2.55,-1.66],[2.45,-1.84],
  [2.59,-1.79],[2.41,-1.71],[2.46,-1.66],[2.54,-1.85],[2.61,-1.72],[2.39,-1.78],[2.56,-1.83],[2.44,-1.67],[2.48,-1.86],[2.52,-1.64],
  [2.62,-1.77],[2.38,-1.74],[2.57,-1.68],[2.43,-1.82],[2.51,-1.87],[2.49,-1.63],[2.60,-1.81],[2.40,-1.69],[2.53,-1.68],[2.47,-1.83],
  [2.65,-1.70],[2.35,-1.80],[2.64,-1.84],[2.36,-1.66],[2.52,-1.58],[2.48,-1.92],[2.67,-1.76],[2.33,-1.74],[2.60,-1.61],[2.40,-1.89],
  [2.63,-1.88],[2.37,-1.62],[2.44,-1.59],[2.56,-1.91],[2.68,-1.66],[2.32,-1.83],[2.58,-1.94],[2.42,-1.57],[2.70,-1.80],[2.30,-1.70],
  [2.55,-1.56],[2.45,-1.94],[2.66,-1.62],[2.34,-1.87],[2.62,-1.92],[2.38,-1.58],[2.49,-1.55],[2.51,-1.95],
  [2.72,-1.60],[2.28,-1.90],[2.75,-1.85],[2.26,-1.64],[2.50,-1.46],[2.46,-2.02],[2.78,-1.72],[2.22,-1.77],[2.64,-1.52],[2.36,-1.98],
  [2.70,-1.96],[2.31,-1.55],[2.58,-2.01],[2.42,-1.49],[2.80,-1.66],[2.24,-1.86],[2.60,-1.45],[2.35,-2.03],[2.76,-1.92],[2.27,-1.59],
  [2.55,-2.06],[2.29,-1.96],[2.82,-1.78],[2.20,-1.72],[2.66,-2.00],[2.40,-1.44],[2.68,-1.50],[2.33,-2.08],[2.53,-1.42],[2.73,-2.04],
  [2.59,-1.74],[2.41,-1.76],[2.51,-1.66],[2.49,-1.84],[2.57,-1.69],[2.43,-1.81],[2.56,-1.81],[2.44,-1.69],[2.54,-1.67],[2.46,-1.83],
  [2.58,-1.77],[2.42,-1.73],[2.53,-1.82],[2.47,-1.68],[2.55,-1.73],[2.45,-1.77],
  [2.63,-1.74],[2.37,-1.76],[2.50,-1.61],[2.50,-1.89],[2.61,-1.66],[2.39,-1.84],[2.60,-1.85],[2.40,-1.65],[2.56,-1.62],[2.44,-1.88],
  [2.64,-1.79],[2.36,-1.71],[2.55,-1.88],[2.45,-1.62],[2.62,-1.70],[2.38,-1.80],[2.58,-1.63],[2.42,-1.87],[2.57,-1.87],[2.43,-1.63],
  [2.47,-1.60],[2.53,-1.90],[2.35,-1.77],[2.65,-1.73],
  [2.68,-1.73],[2.32,-1.77],[2.50,-1.56],[2.50,-1.94],[2.66,-1.66],[2.34,-1.84],[2.65,-1.86],[2.35,-1.64],[2.59,-1.59],[2.41,-1.91],
  [2.69,-1.80],[2.31,-1.70],[2.57,-1.93],[2.43,-1.57],[2.67,-1.63],[2.33,-1.87],[2.62,-1.60],[2.38,-1.90],[2.63,-1.91],[2.37,-1.59],
  [2.46,-1.55],[2.54,-1.95],[2.30,-1.76],[2.70,-1.75],[2.55,-1.57],[2.45,-1.93],[2.61,-1.89],[2.39,-1.61],[2.68,-1.69],[2.32,-1.81],
  [2.73,-1.70],[2.27,-1.80],[2.74,-1.78],[2.26,-1.72],[2.56,-1.52],[2.44,-1.98],[2.64,-1.55],[2.36,-1.95],[2.69,-1.90],[2.31,-1.60],
  [2.52,-1.50],[2.48,-2.00],[2.71,-1.62],[2.29,-1.88],[2.61,-1.97],[2.39,-1.53],
  [2.61,-1.76],[2.39,-1.74],[2.52,-1.62],[2.48,-1.88],[2.64,-1.68],[2.36,-1.82],[2.62,-1.83],[2.38,-1.67],[2.57,-1.60],[2.43,-1.90],
  [2.66,-1.78],[2.34,-1.72],[2.58,-1.90],[2.42,-1.60],[2.60,-1.64],[2.40,-1.86],[2.54,-1.59],[2.46,-1.91],[2.67,-1.71],[2.33,-1.79],
  [2.63,-1.63],[2.37,-1.87],[2.59,-1.88],[2.41,-1.62],[2.45,-1.58],[2.55,-1.92],[2.65,-1.81],[2.35,-1.69],[2.52,-1.92],[2.48,-1.58],
  [2.62,-1.79],[2.38,-1.71],[2.57,-1.65],[2.43,-1.85],[2.66,-1.75],[2.34,-1.75],[2.53,-1.61],[2.47,-1.89],[2.60,-1.69],[2.40,-1.81]
];

var width = 917, height = 721;

var series = [
  { name: seriesNames[0], pts: positive, color: "#1f77b4", alpha: 0.5, keyAlpha: 0.5 },
  { name: seriesNames[1], pts: negative, color: "#ff7f0e", alpha: 0.5, keyAlpha: 0.5 },
  { name: seriesNames[2], pts: outOfDomain, color: "#ff0000", alpha: 0.22, keyAlpha: 0.13 }
];

var x = d3.scaleLinear().domain([-3.5, 3.5]).range([61.5, 929]);
var y = d3.scaleLinear().domain([-2.5, 2.5]).range([685.5, 8.5]);

var svg = d3.select("#chart").append("svg")
    .attr("width", width)
    .attr("height", height);

var r = 6.1;

series.forEach(function (s) {
  svg.append("g")
    .selectAll("circle")
    .data(s.pts)
    .enter().append("circle")
      .attr("cx", function (d) { return x(d[0]); })
      .attr("cy", function (d) { return y(d[1]); })
      .attr("r", r)
      .style("fill", s.color)
      .style("fill-opacity", s.alpha)
      .style("stroke", s.color)
      .style("stroke-opacity", s.alpha)
      .style("stroke-width", 1.4);
});

// axes
var fmt = d3.format("d");
var xAxis = d3.axisBottom(x).tickValues(xTicks).tickFormat(fmt).tickSize(8).tickPadding(8).tickSizeOuter(0);
var yAxis = d3.axisLeft(y).tickValues(yTicks).tickFormat(fmt).tickSize(8).tickPadding(7).tickSizeOuter(0);

var gx = svg.append("g")
    .attr("transform", "translate(0," + y.range()[0] + ")")
    .call(xAxis);
var gy = svg.append("g")
    .attr("transform", "translate(" + x.range()[0] + ",0)")
    .call(yAxis);

[gx, gy].forEach(function (g) {
  g.select(".domain").remove();
  g.selectAll(".tick line").style("stroke", "#222").style("stroke-width", 1.6);
  g.selectAll(".tick text")
    .style("font-size", "20.5px")
    .style("fill", "#222")
    .style("font-family", "'DejaVu Sans', sans-serif");
});

// spines
svg.append("rect")
  .attr("x", x.range()[0])
  .attr("y", y.range()[1])
  .attr("width", x.range()[1] - x.range()[0])
  .attr("height", y.range()[0] - y.range()[1])
  .style("fill", "none")
  .style("stroke", "#222")
  .style("stroke-width", 1.7);

// legend
var legend = svg.append("g").attr("transform", "translate(676,19.5)");

legend.append("rect")
  .attr("width", 238)
  .attr("height", 104)
  .attr("rx", 4)
  .style("fill", "#fff")
  .style("fill-opacity", 0.8)
  .style("stroke", "#d4d4d4")
  .style("stroke-width", 1.3);

var rows = legend.selectAll(".key")
  .data(series)
  .enter().append("g")
    .attr("class", "key")
    .attr("transform", function (d, i) { return "translate(0," + (27 + i * 33.3) + ")"; });

rows.append("circle")
  .attr("cx", 32)
  .attr("cy", -6)
  .attr("r", r)
  .style("fill", function (d) { return d.color; })
  .style("fill-opacity", function (d) { return d.keyAlpha; })
  .style("stroke", function (d) { return d.color; })
  .style("stroke-opacity", function (d) { return d.keyAlpha; })
  .style("stroke-width", 1.4);

rows.append("text")
  .attr("x", 72)
  .attr("y", 0)
  .style("font-size", "21.5px")
  .style("fill", "#222")
  .text(function (d) { return d.name; });
</script>
</body>
</html>
